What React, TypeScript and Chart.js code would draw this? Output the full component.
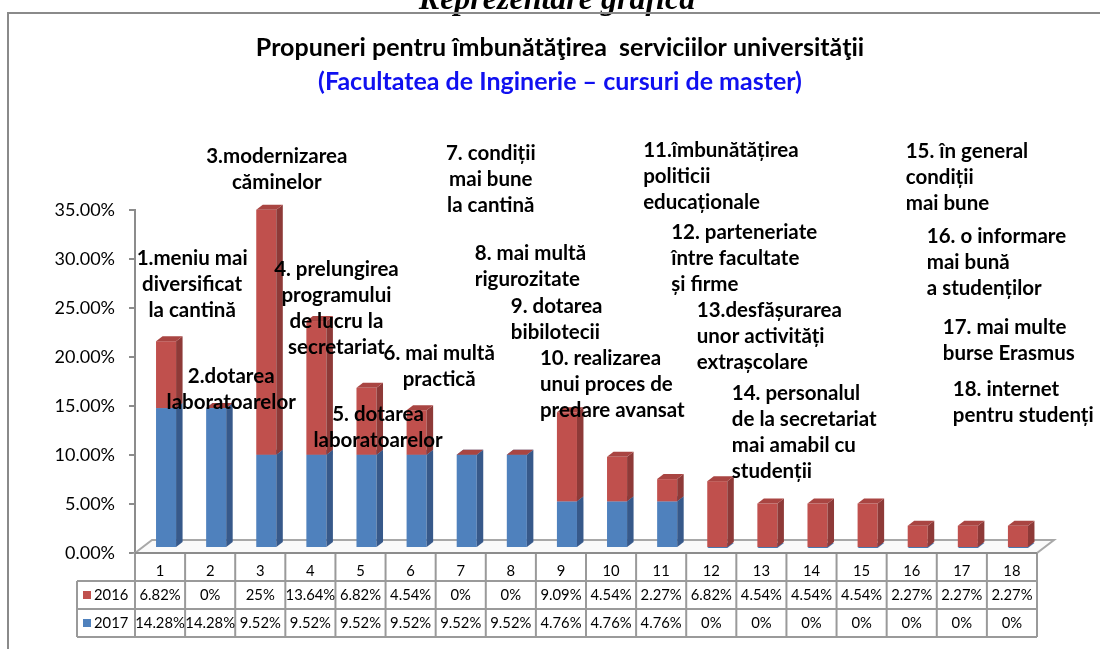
import React, { useEffect, useRef } from 'react';
import { Chart, registerables } from 'chart.js';

Chart.register(...registerables);

// ---------------- data ----------------
const categories = ['1', '2', '3', '4', '5', '6', '7', '8', '9', '10', '11', '12', '13', '14', '15', '16', '17', '18'];
const values2016 = [6.82, 0, 25, 13.64, 6.82, 4.54, 0, 0, 9.09, 4.54, 2.27, 6.82, 4.54, 4.54, 4.54, 2.27, 2.27, 2.27];
const values2017 = [14.28, 14.28, 9.52, 9.52, 9.52, 9.52, 9.52, 9.52, 4.76, 4.76, 4.76, 0, 0, 0, 0, 0, 0, 0];
const seriesNames = ['2016', '2017'];
const yTickValues = [0, 5, 10, 15, 20, 25, 30, 35];
const pageHeading = 'Reprezentare grafică';
const chartTitle = 'Propuneri pentru îmbunătăţirea  serviciilor universităţii';
const chartSubtitle = '(Facultatea de Inginerie – cursuri de master)';
const proposals: string[][] = [
  ['1.meniu mai', 'diversificat', 'la cantină'],
  ['2.dotarea', 'laboratoarelor'],
  ['3.modernizarea', 'căminelor'],
  ['4. prelungirea', 'programului', 'de lucru la', 'secretariat'],
  ['5. dotarea', 'laboratoarelor'],
  ['6. mai multă', 'practică'],
  ['7. condiții', 'mai bune', 'la cantină'],
  ['8. mai multă', 'rigurozitate'],
  ['9. dotarea', 'bibilotecii'],
  ['10. realizarea', 'unui proces de', 'predare avansat'],
  ['11.îmbunătățirea', 'politicii', 'educaționale'],
  ['12. parteneriate', 'între facultate', 'și firme'],
  ['13.desfășurarea', 'unor activități', 'extrașcolare'],
  ['14. personalul', 'de la secretariat', 'mai amabil cu', 'studenții'],
  ['15. în general', 'condiții', 'mai bune'],
  ['16. o informare', 'mai bună', 'a studenților'],
  ['17. mai multe', 'burse Erasmus'],
  ['18. internet', 'pentru studenți'],
];

// ---------------- layout / style ----------------
// label anchors expressed in scale units: category position (index) and value level (%)
const proposalAnchors = [
  { cat: 0.64, val: 30.1, align: 'center' },
  { cat: 1.42, val: 18.06, align: 'center' },
  { cat: 2.33, val: 40.51, align: 'center' },
  { cat: 3.52, val: 28.98, align: 'center' },
  { cat: 4.35, val: 14.18, align: 'center' },
  { cat: 5.57, val: 20.41, align: 'center' },
  { cat: 6.6, val: 40.82, align: 'center' },
  { cat: 6.28, val: 30.61, align: 'left' },
  { cat: 7.0, val: 25.2, align: 'left' },
  { cat: 7.58, val: 19.9, align: 'left' },
  { cat: 9.64, val: 41.12, align: 'left' },
  { cat: 10.2, val: 32.76, align: 'left' },
  { cat: 10.71, val: 24.8, align: 'left' },
  { cat: 11.41, val: 16.33, align: 'left' },
  { cat: 14.88, val: 41.02, align: 'left' },
  { cat: 15.3, val: 32.35, align: 'left' },
  { cat: 15.62, val: 23.06, align: 'left' },
  { cat: 15.82, val: 16.73, align: 'left' },
];

const RED = { front: '#C0504D', side: '#8E3A38', top: '#A94542' };
const BLUE = { front: '#4F81BD', side: '#37598A', top: '#4A77AE' };
const GRID = '#9a9a9a';
const FONT = 'Lato';
const DEPTH_X = 6.5; // 3D side depth
const DEPTH_Y = 5;
const SHIFT_X = 6; // bars sit mid-depth on the floor
const SHIFT_Y = -5;
const FLOOR_DX = 17;
const FLOOR_DY = 13;
const ROW_H = 28;
const LABEL_COL_W = 58;
const LINE_H = 26;

function drawBar3D(ctx: CanvasRenderingContext2D, cx: number, y: number, base: number, w: number, c: any) {
  const left = cx - w / 2;
  const right = cx + w / 2;
  const top = Math.min(y, base);
  const bottom = Math.max(y, base);
  ctx.fillStyle = c.front;
  ctx.fillRect(left, top, w, bottom - top);
  ctx.fillStyle = c.side;
  ctx.beginPath();
  ctx.moveTo(right, bottom);
  ctx.lineTo(right + DEPTH_X, bottom - DEPTH_Y);
  ctx.lineTo(right + DEPTH_X, top - DEPTH_Y);
  ctx.lineTo(right, top);
  ctx.closePath();
  ctx.fill();
  ctx.fillStyle = c.top;
  ctx.beginPath();
  ctx.moveTo(left, top);
  ctx.lineTo(left + DEPTH_X, top - DEPTH_Y);
  ctx.lineTo(right + DEPTH_X, top - DEPTH_Y);
  ctx.lineTo(right, top);
  ctx.closePath();
  ctx.fill();
}

const decorPlugin = {
  id: 'decor',
  beforeDraw(chart: any) {
    const ctx = chart.ctx as CanvasRenderingContext2D;
    ctx.save();
    ctx.fillStyle = '#fff';
    ctx.fillRect(0, 0, chart.width, chart.height);
    ctx.font = `bold italic 32px "Liberation Serif"`;
    ctx.fillStyle = '#000';
    ctx.textAlign = 'center';
    ctx.textBaseline = 'alphabetic';
    ctx.fillText(pageHeading, 557, 9);
    ctx.strokeStyle = '#8a8a8a';
    ctx.lineWidth = 2;
    ctx.beginPath();
    ctx.moveTo(8, chart.height);
    ctx.lineTo(8, 13);
    ctx.lineTo(chart.width, 13);
    ctx.stroke();
    ctx.restore();
  },
  beforeDatasetsDraw(chart: any) {
    const ctx = chart.ctx as CanvasRenderingContext2D;
    const { left, right, bottom } = chart.chartArea;
    ctx.save();
    ctx.fillStyle = '#fafafa';
    ctx.strokeStyle = '#a8a8a8';
    ctx.lineWidth = 2;
    ctx.beginPath();
    ctx.moveTo(left, bottom);
    ctx.lineTo(left + FLOOR_DX, bottom - FLOOR_DY);
    ctx.lineTo(right + FLOOR_DX, bottom - FLOOR_DY);
    ctx.lineTo(right, bottom);
    ctx.closePath();
    ctx.fill();
    ctx.stroke();
    ctx.restore();
  },
  beforeDatasetDraw() {
    return false;
  },
  afterDatasetsDraw(chart: any) {
    const ctx = chart.ctx as CanvasRenderingContext2D;
    ctx.save();
    const metas = [chart.getDatasetMeta(0), chart.getDatasetMeta(1)];
    for (let i = 0; i < categories.length; i++) {
      for (const meta of metas) {
        const ds = chart.data.datasets[meta.index];
        const el = meta.data[i];
        const p = el.getProps(['x', 'y', 'base', 'width'], true);
        drawBar3D(ctx, p.x + SHIFT_X, p.y + SHIFT_Y, p.base + SHIFT_Y, p.width, ds.faces);
      }
    }
    ctx.restore();
  },
  afterDraw(chart: any) {
    const ctx = chart.ctx as CanvasRenderingContext2D;
    const xs = chart.scales.x;
    const ys = chart.scales.y;
    const { left, right, bottom } = chart.chartArea;
    const n = categories.length;
    const colW = (right - left) / n;
    const labelLeft = left - LABEL_COL_W;
    const tableBottom = bottom + ROW_H * 3;
    ctx.save();
    // table grid
    ctx.strokeStyle = GRID;
    ctx.lineWidth = 2;
    ctx.beginPath();
    for (let i = 0; i <= n; i++) {
      const x = i === n ? xs.getPixelForValue(n - 1) + colW / 2 : xs.getPixelForValue(i) - colW / 2;
      ctx.moveTo(x, bottom);
      ctx.lineTo(x, tableBottom);
    }
    for (let r = 1; r <= 3; r++) {
      ctx.moveTo(labelLeft, bottom + r * ROW_H);
      ctx.lineTo(right, bottom + r * ROW_H);
    }
    ctx.moveTo(labelLeft, bottom + ROW_H);
    ctx.lineTo(labelLeft, tableBottom);
    ctx.stroke();
    // front floor edge
    ctx.strokeStyle = '#8c8c8c';
    ctx.beginPath();
    ctx.moveTo(left, bottom);
    ctx.lineTo(right, bottom);
    ctx.stroke();

    ctx.fillStyle = '#000';
    ctx.textBaseline = 'middle';
    ctx.textAlign = 'center';
    ctx.font = `14.8px ${FONT}`;
    const rows = [values2016, values2017];
    for (let i = 0; i < n; i++) {
      const cx = xs.getPixelForValue(i);
      ctx.fillText(categories[i], cx, bottom + ROW_H / 2 + 4);
      rows.forEach((vals, r) => {
        ctx.fillText(`${vals[i]}%`, cx, bottom + ROW_H * (r + 1.5));
      });
    }
    // row headers (legend)
    const sw = [RED.front, BLUE.front];
    seriesNames.forEach((name, r) => {
      const my = bottom + ROW_H * (r + 1.5);
      ctx.fillStyle = sw[r];
      ctx.fillRect(labelLeft + 6, my - 4, 8, 8);
      ctx.fillStyle = '#000';
      ctx.textAlign = 'left';
      ctx.fillText(name, labelLeft + 17, my);
    });

    // proposal labels
    ctx.font = `bold 20.5px ${FONT}`;
    ctx.fillStyle = '#000';
    proposals.forEach((lines, k) => {
      const a = proposalAnchors[k];
      const x = xs.getPixelForValue(a.cat);
      const y = ys.getPixelForValue(a.val);
      ctx.textAlign = a.align as CanvasTextAlign;
      lines.forEach((ln, j) => ctx.fillText(ln, x, y + j * LINE_H));
    });
    ctx.restore();
  },
};

export default function App() {
  const ref = useRef<HTMLCanvasElement>(null);
  useEffect(() => {
    document.body.style.margin = '0';
    const canvas = ref.current!;
    const chart = new Chart(canvas, {
      type: 'bar',
      data: {
        labels: categories,
        datasets: [
          { label: seriesNames[1], data: values2017, backgroundColor: BLUE.front, faces: BLUE } as any,
          { label: seriesNames[0], data: values2016, backgroundColor: RED.front, faces: RED } as any,
        ],
      },
      options: {
        responsive: false,
        animation: false,
        devicePixelRatio: 1,
        layout: { padding: { left: 20, right: 0, top: 0, bottom: 96 } },
        datasets: { bar: { barPercentage: 0.4, categoryPercentage: 1 } },
        plugins: {
          legend: { display: false },
          tooltip: { enabled: false },
          title: {
            display: true,
            text: chartTitle,
            color: '#000',
            font: { family: FONT, size: 25, weight: 'bold', lineHeight: 1.2 },
            padding: { top: 33, bottom: 0 },
          },
          subtitle: {
            display: true,
            text: chartSubtitle,
            color: '#1010f0',
            font: { family: FONT, size: 25, weight: 'bold', lineHeight: 1.2 },
            padding: { top: 4, bottom: 113 },
          },
        },
        scales: {
          x: { display: false, stacked: true, offset: true },
          y: {
            stacked: true,
            min: yTickValues[0],
            max: yTickValues[yTickValues.length - 1],
            afterBuildTicks: (s: any) => {
              s.ticks = yTickValues.map((v) => ({ value: v }));
            },
            ticks: {
              color: '#000',
              font: { family: FONT, size: 18 },
              padding: 14,
              callback: (v: any) => `${Number(v).toFixed(2)}%`,
            },
            grid: { drawOnChartArea: false, drawTicks: true, tickLength: 6, color: '#8c8c8c', lineWidth: 2 },
            border: { display: true, color: '#8c8c8c', width: 2 },
            afterFit: (s: any) => {
              s.width = 115;
            },
          },
          yRightSpace: {
            position: 'right',
            display: true,
            grid: { display: false },
            border: { display: false },
            ticks: { display: false },
            afterFit: (s: any) => {
              s.width = 63;
            },
          },
        },
      } as any,
      plugins: [decorPlugin],
    });
    return () => chart.destroy();
  }, []);
  return <canvas ref={ref} width={1100} height={649} style={{ display: 'block' }} />;
}
